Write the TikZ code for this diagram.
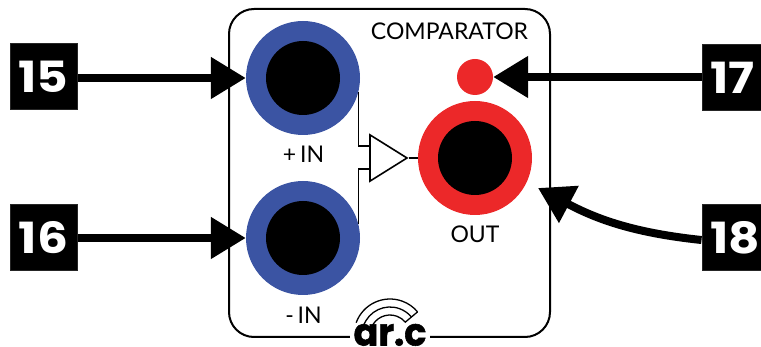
\documentclass[tikz,border=0pt]{standalone}
\usepackage{fontspec}
\setmainfont{Lato}
\newfontfamily\numfont{Poppins}[BoldFont={* Bold},BoldFeatures={FakeStretch=1.13}]
\newfontfamily\logofont{Poppins}[BoldFont={* Bold},BoldFeatures={FakeStretch=0.96,FakeBold=1.5}]
\usetikzlibrary{arrows.meta,shapes.geometric,calc}
\definecolor{jackblue}{RGB}{59,84,163}
\definecolor{jackred}{RGB}{236,40,41}
\tikzset{
  numbox/.style = {fill=black, draw=black!85, line width=1pt, text=white, minimum width=67pt, minimum height=66pt, inner sep=0pt, font=\numfont\bfseries\fontsize{43}{43}\selectfont},
  jackring/.style = {circle, fill=#1, minimum size=114pt, inner sep=0pt},
  jackhole/.style = {circle, fill=black, minimum size=74pt, inner sep=0pt},
  bigarrow/.style = {line width=8pt, -{Triangle[length=35pt,width=40pt]}},
  panellabel/.style = {inner sep=0pt, font=\fontsize{23}{23}\selectfont},
  wire/.style = {line width=1.6pt},
  logoarc/.style = {line width=1.3pt}
}
\begin{document}
\begin{tikzpicture}[x=1pt, y=-1pt]
\useasboundingbox (0,0) rectangle (761,347);
\clip (0,0) rectangle (761,347);
\draw[line width=2pt, rounded corners=25pt] (229,9) rectangle (550,337); % panel
\node (title) [panellabel] at (449.5,31) {COMPARATOR};
% jacks
\node (plusring) [jackring=jackblue] at (303,78) {};
\node (plushole) [jackhole] at (plusring) {};
\node (minusring) [jackring=jackblue] at (303,238) {};
\node (minushole) [jackhole] at (minusring) {};
\node (outring) [jackring=jackred] at (475,158) {};
\node (outhole) [jackhole] at (outring) {};
\node (led) [circle, fill=jackred, minimum size=36pt, inner sep=0pt] at (475,77) {};
\node (pluslabel) [panellabel] at (303.5,154) {+\,IN};
\node (minuslabel) [panellabel] at (303.5,315) {-\,IN};
\node (outlabel) [panellabel] at (475,234) {OUT};
% comparator symbol
\node (amp) [isosceles triangle, isosceles triangle apex angle=64, draw, line width=1.6pt, minimum height=37pt, inner sep=0pt, anchor=apex] at (408.5,158) {};
\coordinate (ampplus) at (370,146);
\coordinate (ampminus) at (370,169);
\draw[wire] (plusring.-14) |- (ampplus);
\draw[wire] (minusring.14) |- (ampminus);
\draw[wire] (amp.apex) -- (outring);
% logo
\fill[white] (350,322) rectangle (430,347);
\coordinate (logoc) at (390,335);
\draw[logoarc] (logoc) ++(-160:36) arc[start angle=-160, end angle=-40, radius=36];
\draw[logoarc] (logoc) ++(-160:28) arc[start angle=-160, end angle=-40, radius=28];
\draw[logoarc] (logoc) ++(-160:20) arc[start angle=-160, end angle=-40, radius=20] -- ($(logoc)+(-40:36)$);
\node (logo) [inner sep=0pt, anchor=base, font=\logofont\bfseries\fontsize{38}{38}\selectfont] at (390,345.5) {ar.c};
% numbered boxes
\node (n15) [numbox] at (43.5,77) {15};
\node (n16) [numbox] at (43.5,238) {16};
\node (n17) [numbox, minimum width=59pt, text width=59pt, align=left] at (731.5,77.5) {\hspace{8pt}17};
\node (n18) [numbox, minimum width=59pt, text width=59pt, align=left] at (731.5,237.5) {\hspace{8pt}18};
% arrows
\draw[bigarrow] (n15.east |- plusring) -- (plusring.west);
\draw[bigarrow] (n16.east |- minusring) -- (minusring.west);
\draw[bigarrow] (n17.west |- led) -- (led.east);
\coordinate (outtip) at (538,188);
\draw[bigarrow] ([yshift=-2.5pt]n18.west) to[out=174, in=-28] (outtip);
\end{tikzpicture}
\end{document}
